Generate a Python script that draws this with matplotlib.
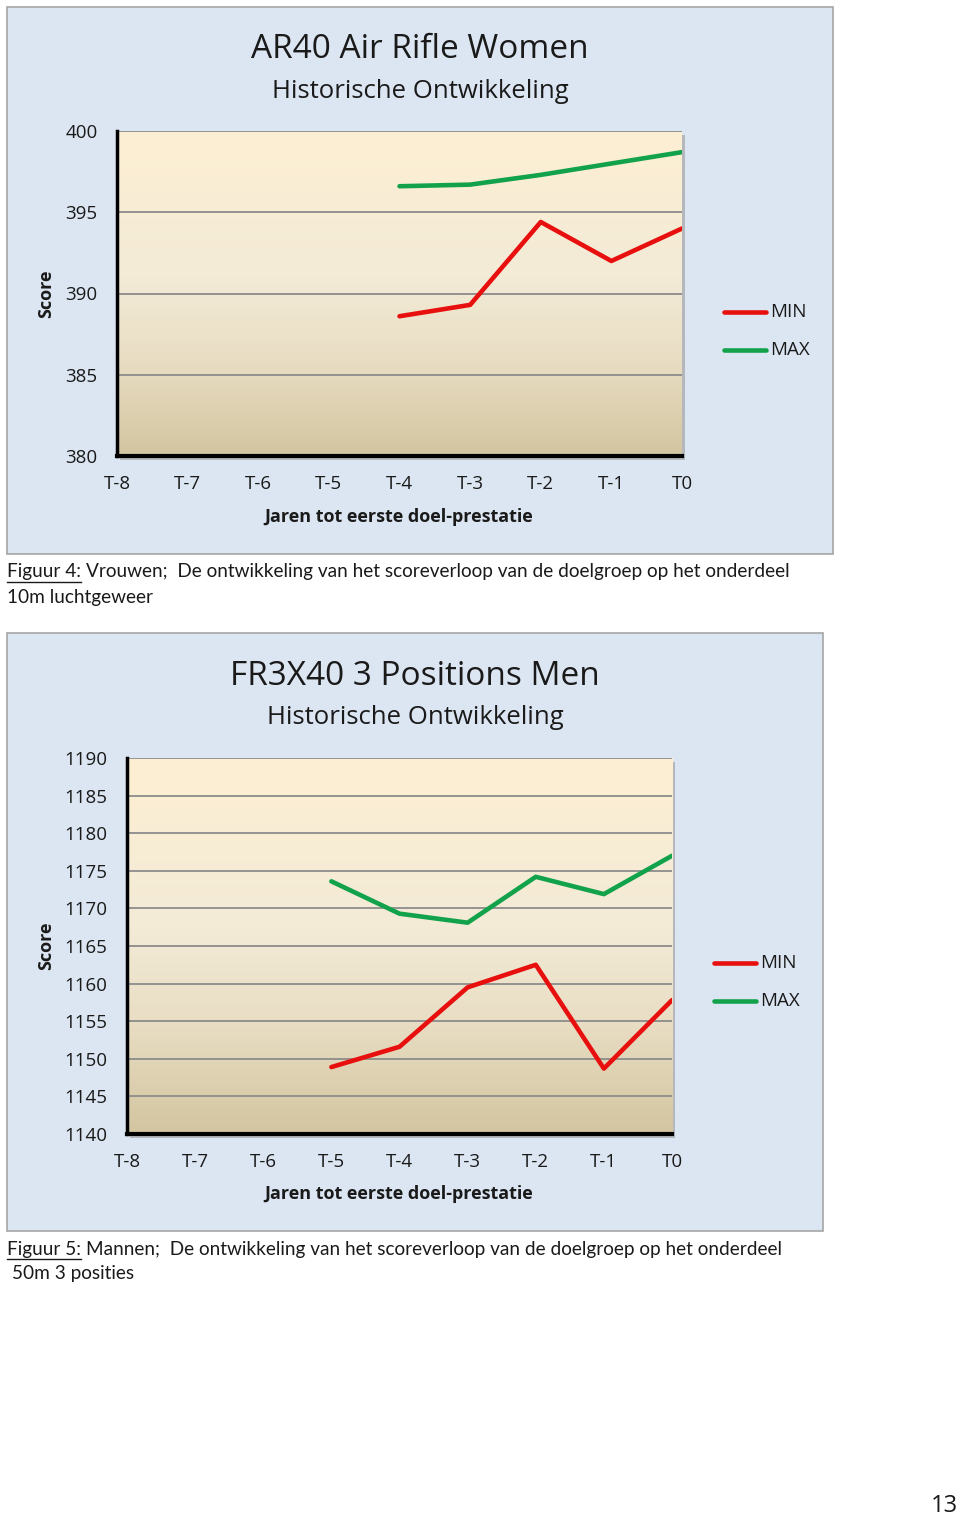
import numpy as np
import matplotlib
matplotlib.use('Agg')
import matplotlib.pyplot as plt
from matplotlib.patches import Rectangle
from matplotlib.colors import LinearSegmentedColormap
from matplotlib.lines import Line2D

# data
categories = ['T-8', 'T-7', 'T-6', 'T-5', 'T-4', 'T-3', 'T-2', 'T-1', 'T0']
nan = np.nan
women_min = [nan, nan, nan, nan, 388.6, 389.3, 394.4, 392.0, 394.0]
women_max = [nan, nan, nan, nan, 396.6, 396.7, 397.3, 398.0, 398.7]
men_min = [nan, nan, nan, 1148.9, 1151.6, 1159.5, 1162.5, 1148.7, 1157.8]
men_max = [nan, nan, nan, 1173.6, 1169.3, 1168.1, 1174.2, 1171.9, 1177.0]
women_ticks = [380, 385, 390, 395, 400]
men_ticks = list(range(1140, 1191, 5))

W, H = 960, 1519
FONT = 'Open Sans'
RED = '#e8100f'
GREEN = '#13a24c'
PANEL = '#dce6f2'

fig = plt.figure(figsize=(W / 100, H / 100), dpi=100)
fig.patch.set_facecolor('white')


def fx(x):
    return x / W


def fy(y):
    return 1 - y / H


def panel(x0, y0, x1, y1):
    fig.patches.append(Rectangle((fx(x0), fy(y1)), fx(x1 - x0), (y1 - y0) / H,
                                 transform=fig.transFigure, facecolor=PANEL,
                                 edgecolor='#a6a6a6', lw=1.2, zorder=0))


grad = LinearSegmentedColormap.from_list('bg', [(0, '#d3c5a0'), (0.3, '#e9dec4'),
                                                (0.55, '#f3ebd7'), (1, '#fdefd2')])


def chart(x0, y0, x1, y1, mn, mx, ticks, title, sub, tx, title_y, sub_y, leg_x, leg_y, xl_y):
    # shadow
    fig.patches.append(Rectangle((fx(x0 + 3), fy(y1 + 4)), fx(x1 - x0), (y1 - y0) / H,
                                 transform=fig.transFigure, facecolor='#9a9a9a',
                                 edgecolor='none', alpha=0.6, zorder=1))
    ax = fig.add_axes([fx(x0), fy(y1), fx(x1 - x0), (y1 - y0) / H])
    ax.set_zorder(2)
    ylo, yhi = ticks[0], ticks[-1]
    ax.imshow(np.linspace(0, 1, 256).reshape(-1, 1), cmap=grad, origin='lower',
              aspect='auto', extent=[0, 8, ylo, yhi], zorder=0)
    x = np.arange(len(categories))
    for t in ticks[1:]:
        ax.axhline(t, color='#8c8c8c', lw=1.3, zorder=1)
    ax.plot(x, mn, color=RED, lw=3.3, solid_capstyle='round', zorder=3)
    ax.plot(x, mx, color=GREEN, lw=3.3, solid_capstyle='round', zorder=3)
    ax.set_xlim(0, 8)
    ax.set_ylim(ylo, yhi)
    ax.set_xticks(x)
    ax.set_xticklabels(categories, fontsize=13.5, family=FONT, color='#1a1a1a')
    ax.set_yticks(ticks)
    ax.set_yticklabels([str(t) for t in ticks], fontsize=13.5, family=FONT, color='#1a1a1a')
    ax.tick_params(length=0)
    ax.tick_params(axis='y', pad=14)
    ax.tick_params(axis='x', pad=14)
    for s in ['top', 'right']:
        ax.spines[s].set_visible(False)
    ax.spines['left'].set_linewidth(2.5)
    ax.spines['bottom'].set_linewidth(3)
    ax.spines['left'].set_color('black')
    ax.spines['bottom'].set_color('black')

    fig.text(fx(tx), fy(title_y), title, fontsize=24, family=FONT,
             ha='center', va='center', color='#1a1a1a')
    fig.text(fx(tx), fy(sub_y), sub, fontsize=18.5, family=FONT,
             ha='center', va='center', color='#1a1a1a')
    fig.text(fx(399), fy(xl_y), 'Jaren tot eerste doel-prestatie', fontsize=13,
             family=FONT, weight='bold', ha='center', va='center', color='#1a1a1a')
    fig.text(fx(46), fy((y0 + y1) / 2), 'Score', fontsize=13, family=FONT,
             weight='bold', rotation=90, ha='center', va='center', color='#1a1a1a')
    for i, (lab, col) in enumerate([('MIN', RED), ('MAX', GREEN)]):
        yy = leg_y + i * 38
        fig.lines.append(Line2D([fx(leg_x), fx(leg_x + 42)], [fy(yy), fy(yy)],
                                transform=fig.transFigure, color=col, lw=3.3,
                                solid_capstyle='round'))
        fig.text(fx(leg_x + 46), fy(yy), lab, fontsize=13.5, family=FONT,
                 ha='left', va='center', color='#1a1a1a')
    return ax


panel(7, 7, 833, 554)
panel(7, 633, 823, 1231)

chart(117, 131, 682, 456, women_min, women_max, women_ticks,
      'AR40 Air Rifle Women', 'Historische Ontwikkeling', 420, 50, 91, 724, 312, 517)
chart(127, 758, 672, 1134, men_min, men_max, men_ticks,
      'FR3X40 3 Positions Men', 'Historische Ontwikkeling', 415, 676, 717, 714, 963, 1194)

renderer = fig.canvas.get_renderer()
CAP = 13.7


def caption(y, head, rest, line2, x2):
    t = fig.text(fx(7), fy(y), head, fontsize=CAP, family='Lato', ha='left',
                 va='center', color='#1a1a1a')
    bb = t.get_window_extent(renderer)
    fig.lines.append(Line2D([bb.x0 / W, bb.x1 / W], [fy(y + 10), fy(y + 10)],
                            transform=fig.transFigure, color='#1a1a1a', lw=1))
    fig.text(bb.x1 / W + fx(5), fy(y), rest, fontsize=CAP, family='Lato',
             ha='left', va='center', color='#1a1a1a')
    fig.text(fx(x2), fy(y + 25), line2, fontsize=CAP, family='Lato', ha='left',
             va='center', color='#1a1a1a')


caption(572, 'Figuur 4:', 'Vrouwen;  De ontwikkeling van het scoreverloop van de doelgroep op het onderdeel',
        '10m luchtgeweer', 7)
caption(1249, 'Figuur 5:', 'Mannen;  De ontwikkeling van het scoreverloop van de doelgroep op het onderdeel',
        '50m 3 posities', 12)

fig.text(fx(944), fy(1506), '13', fontsize=17, family=FONT, ha='center', va='center',
         color='#1a1a1a')

fig.savefig('out.png', dpi=100)
